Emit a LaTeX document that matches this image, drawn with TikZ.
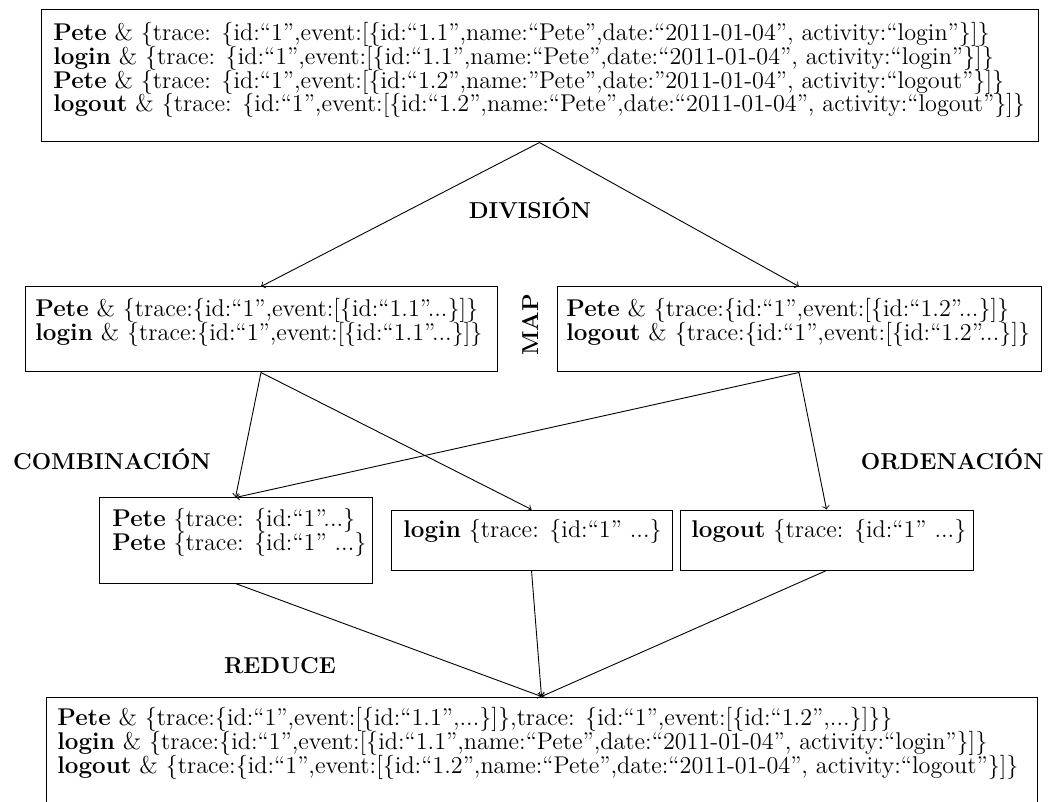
\documentclass[tikz,border=0pt]{standalone}
\usetikzlibrary{fit}
\begin{document}
% fixed line spacing inside the boxes
\lineskiplimit=-\maxdimen
\begin{tikzpicture}[x=0.5pt,y=-0.5pt,
  box/.style={draw, line width=0.5pt, inner sep=0pt},
  txt/.style={anchor=north west, align=left, inner sep=0pt,
    font=\fontsize{12.1}{11.9}\selectfont},
  lbl/.style={inner sep=0pt, font=\fontsize{11.5}{14}\selectfont\bfseries},
  arr/.style={->, line width=0.45pt}]
\useasboundingbox (0,0) rectangle (1056,802);
\clip (0,0) rectangle (1056,802);

% boxes
\node[box, fit={(41,10) (1038,142)}] (top) {};
\node[box, fit={(25,287) (497,372)}] (mapL) {};
\node[box, fit={(557,287) (1041,372)}] (mapR) {};
\node[box, fit={(99,498) (372,583)}] (grpPete) {};
\node[box, fit={(391,510) (672,570)}] (grpLogin) {};
\node[box, fit={(680,510) (973,570)}] (grpLogout) {};
\node[box, fit={(46,697) (1037,840)}] (out) {};

% box contents
\node[txt] (topT) at (53,22) {%
\textbf{Pete} \& \{trace: \{id:``1'',event:[\{id:``1.1'',name:``Pete'',date:``2011-01-04'', activity:``login''\}]\}\\
\textbf{login} \& \{trace: \{id:``1'',event:[\{id:``1.1'',name:``Pete'',date:``2011-01-04'', activity:``login''\}]\}\\
\textbf{Pete} \& \{trace: \{id:``1'',event:[\{id:``1.2'',name:''Pete'',date:''2011-01-04'', activity:``logout''\}]\}\\
\textbf{logout} \& \{trace: \{id:``1'',event:[\{id:``1.2'',name:``Pete'',date:``2011-01-04'', activity:``logout''\}]\}};

\node[txt] (mapLT) at (35,298) {%
\textbf{Pete} \& \{trace:\{id:``1'',event:[\{id:``1.1''...\}]\}\\
\textbf{login} \& \{trace:\{id:``1'',event:[\{id:``1.1''...\}]\}};

\node[txt] (mapRT) at (566,298) {%
\textbf{Pete} \& \{trace:\{id:``1'',event:[\{id:``1.2''...\}]\}\\
\textbf{logout} \& \{trace:\{id:``1'',event:[\{id:``1.2''...\}]\}};

\node[txt] (grpPeteT) at (112,508) {%
\textbf{Pete} \{trace: \{id:``1''...\}\\
\textbf{Pete} \{trace: \{id:``1'' ...\}};

\node[txt] (grpLoginT) at (403,519) {\textbf{login} \{trace: \{id:``1'' ...\}};
\node[txt] (grpLogoutT) at (691,519) {\textbf{logout} \{trace: \{id:``1'' ...\}};

\node[txt] (outT) at (57,707) {%
\textbf{Pete} \& \{trace:\{id:``1'',event:[\{id:``1.1'',...\}]\},trace: \{id:``1'',event:[\{id:``1.2'',...\}]\}\}\\
\textbf{login} \& \{trace:\{id:``1'',event:[\{id:``1.1'',name:``Pete'',date:``2011-01-04'', activity:``login''\}]\}\\
\textbf{logout} \& \{trace:\{id:``1'',event:[\{id:``1.2'',name:``Pete'',date:``2011-01-04'', activity:``logout''\}]\}};

% phase labels
\node[lbl] (division) at (530,208) {DIVISI\'ON};
\node[lbl, rotate=90] (map) at (530,325) {MAP};
\node[lbl] (combinacion) at (112,459) {COMBINACI\'ON};
\node[lbl, anchor=east] (ordenacion) at (1044,459) {ORDENACI\'ON};
\node[lbl] (reduce) at (280,666) {REDUCE};

% data flow
\draw[arr] (top.south) -- (mapL.north);
\draw[arr] (top.south) -- (mapR.north);
\draw[arr] (mapL.south) -- (grpPete.north);
\draw[arr] (mapL.south) -- (grpLogin.north);
\draw[arr] (mapR.south) -- (grpPete.north);
\draw[arr] (mapR.south) -- (grpLogout.north);
\draw[arr] (grpPete.south) -- (out.north);
\draw[arr] (grpLogin.south) -- (out.north);
\draw[arr] (grpLogout.south) -- (out.north);
\end{tikzpicture}
\end{document}
